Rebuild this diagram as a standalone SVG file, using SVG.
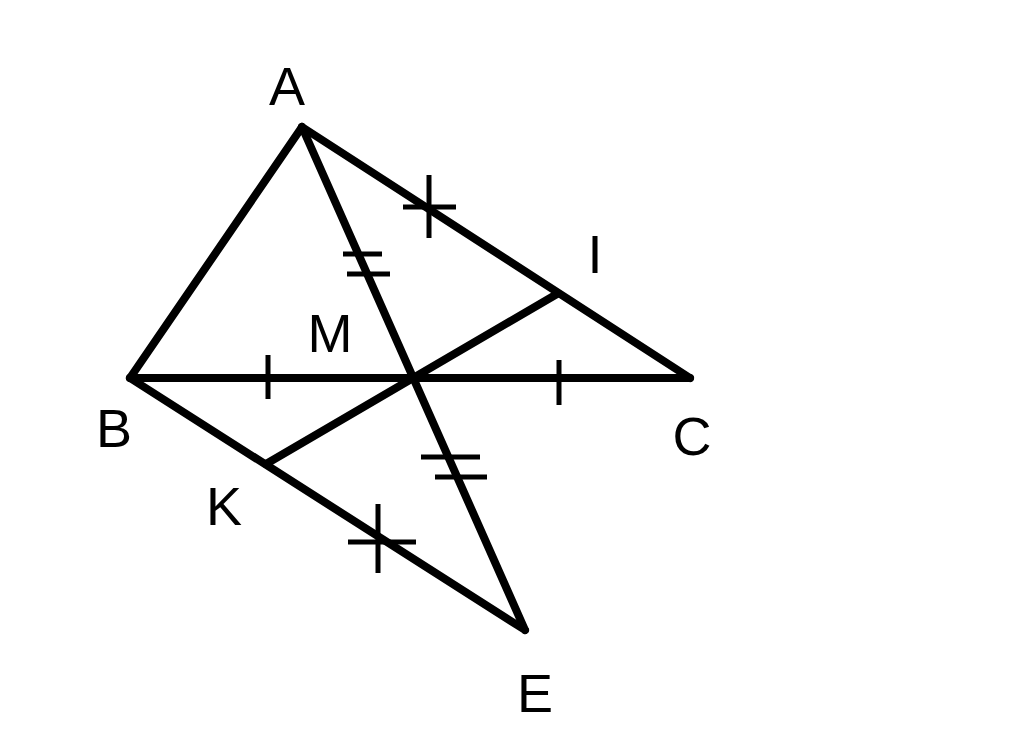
<svg xmlns="http://www.w3.org/2000/svg" width="1024" height="750" viewBox="0 0 1024 750">
<style>
.e{stroke:#000;stroke-width:8;stroke-linecap:round;fill:none}
.t{stroke:#000;stroke-width:5;fill:none}
.l{font-family:"Liberation Sans",Arial,sans-serif;font-size:54px;fill:#000;text-anchor:middle}
</style>
<rect width="1024" height="750" fill="#fff"/>
<g id="connectors">
<line class="e" x1="302" y1="127" x2="130" y2="378"/>
<line class="e" x1="302" y1="127" x2="690" y2="378"/>
<line class="e" x1="130" y1="378" x2="690" y2="378"/>
<line class="e" x1="302" y1="127" x2="525" y2="630"/>
<line class="e" x1="130" y1="378" x2="525" y2="630"/>
<line class="e" x1="266" y1="464" x2="557" y2="294"/>
</g>
<g id="ticks">
<line class="t" x1="343" y1="254" x2="382" y2="254"/>
<line class="t" x1="347" y1="274" x2="390" y2="274"/>
<line class="t" x1="421" y1="457" x2="480" y2="457"/>
<line class="t" x1="435" y1="477" x2="487" y2="477"/>
<line class="t" x1="378" y1="504" x2="378" y2="573"/>
<line class="t" x1="348" y1="542" x2="416" y2="542"/>
<line class="t" x1="429" y1="175" x2="429" y2="238"/>
<line class="t" x1="403" y1="207" x2="456" y2="207"/>
<line class="t" x1="268" y1="355" x2="268" y2="399"/>
<line class="t" x1="559" y1="360" x2="559" y2="405"/>
</g>
<g id="A"><text class="l" x="287" y="105">A</text></g>
<g id="B"><text class="l" x="114" y="447">B</text></g>
<g id="C"><text class="l" x="692" y="455">C</text></g>
<g id="M"><text class="l" x="330" y="352">M</text></g>
<g id="I"><text class="l" x="595" y="273">I</text></g>
<g id="K"><text class="l" x="224" y="525">K</text></g>
<g id="E"><text class="l" x="535" y="712">E</text></g>
</svg>
